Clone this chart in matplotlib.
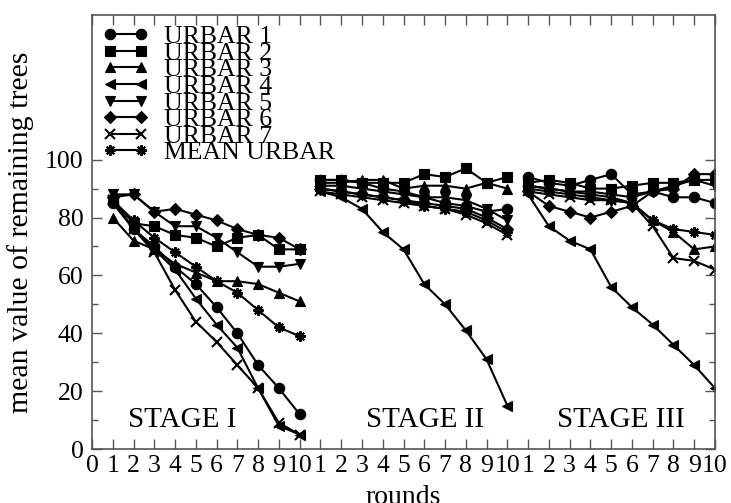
import matplotlib
matplotlib.use("Agg")
import matplotlib.pyplot as plt
import numpy as np

# rounds 1-10 of each stage, plotted one after another (stage I, II, III)
ROUNDS = np.arange(1, 31)
TICK_LABELS = ["0"] + [str(r) for r in range(1, 11)] * 3

URBAR_1 = [85, 76, 70, 63, 57, 49, 40, 29, 21, 12,
           93, 93, 92, 90, 89, 87, 85, 84, 82, 83,
           94, 92, 91, 93, 95, 88, 89, 87, 87, 85]
URBAR_2 = [86, 78, 77, 74, 73, 70, 73, 74, 69, 69,
           93, 93, 92, 92, 92, 95, 94, 97, 92, 94,
           92, 93, 92, 90, 90, 91, 92, 92, 93, 93]
URBAR_3 = [80, 72, 69, 64, 61, 58, 58, 57, 54, 51,
           92, 92, 93, 93, 90, 91, 91, 90, 92, 90,
           91, 90, 89, 88, 87, 85, 79, 75, 69, 70]
URBAR_4 = [86, 76, 69, 62, 52, 43, 35, 21, 8, 5,
           89, 87, 83, 75, 69, 57, 50, 41, 31, 15,
           88, 77, 72, 69, 56, 49, 43, 36, 29, 21]
URBAR_5 = [88, 88, 82, 77, 77, 73, 68, 63, 63, 64,
           91, 91, 90, 89, 88, 87, 87, 86, 83, 79,
           91, 90, 89, 89, 88, 87, 89, 91, 93, 91]
URBAR_6 = [87, 88, 82, 83, 81, 79, 76, 74, 73, 69,
           90, 89, 88, 87, 86, 85, 84, 83, 80, 76,
           89, 84, 82, 80, 82, 84, 89, 90, 95, 95]
URBAR_7 = [86, 76, 68, 55, 44, 37, 29, 21, 9, 5,
           89, 88, 87, 86, 85, 84, 83, 81, 78, 74,
           89, 88, 87, 86, 86, 85, 77, 66, 65, 62]
MEAN_URBAR = [86, 79, 73, 68, 63, 58, 54, 48, 42, 39,
              90, 89, 88, 87, 86, 84, 83, 82, 79, 75,
              90, 89, 88, 87, 86, 85, 79, 76, 75, 74]

SERIES = [
    ("URBAR 1", URBAR_1, "o"),
    ("URBAR 2", URBAR_2, "s"),
    ("URBAR 3", URBAR_3, "^"),
    ("URBAR 4", URBAR_4, "<"),
    ("URBAR 5", URBAR_5, "v"),
    ("URBAR 6", URBAR_6, "D"),
    ("URBAR 7", URBAR_7, "x"),
    ("MEAN URBAR", MEAN_URBAR, (8, 2, 0)),
]

STAGES = ["STAGE I", "STAGE II", "STAGE III"]
STAGE_CENTERS = [4.36, 16.03, 25.47]

plt.rcParams.update({
    "font.family": ["Liberation Serif", "DejaVu Serif"],
})

fig = plt.figure(figsize=(7.31, 5.03), dpi=100)
ax = fig.add_axes([92 / 731, 54 / 503, 623 / 731, 434 / 503])

for label, vals, marker in SERIES:
    # one line per stage so the stages are not joined
    for s in range(3):
        sl = slice(10 * s, 10 * s + 10)
        ms = 6.5 if marker == "D" else 7.5
        ax.plot(ROUNDS[sl], vals[sl], color="black", lw=1.5,
                marker=marker, markersize=ms,
                markeredgewidth=1.5 if marker in ("x", (8, 2, 0)) else 0.8,
                markerfacecolor="black", markeredgecolor="black",
                label=label if s == 0 else None)

ax.set_xlim(0, 30)
ax.set_ylim(0, 150)
ax.set_xticks(np.arange(0, 31))
ax.set_xticklabels(TICK_LABELS)
ax.set_yticks(np.arange(0, 101, 20))
ax.set_yticks(np.arange(10, 100, 20), minor=True)

ax.tick_params(axis="both", which="both", direction="in", top=True, right=True,
               color="#555555", width=1.0, labelsize=18.5, pad=6)
ax.tick_params(axis="both", which="major", length=7)
ax.tick_params(axis="y", which="minor", length=4)
ax.tick_params(axis="x", pad=4)
for sp in ax.spines.values():
    sp.set_color("#555555")
    sp.set_linewidth(1.2)

ax.set_xlabel("rounds", fontsize=20, labelpad=6)
ax.set_ylabel("mean value of remaining trees", fontsize=21.5, labelpad=8)

for name, xc in zip(STAGES, STAGE_CENTERS):
    ax.text(xc, 10, name, fontsize=21, ha="center", va="center")

leg = ax.legend(loc="upper left", bbox_to_anchor=(0.0, 1.0), frameon=False,
                fontsize=18.5, numpoints=2, handlelength=1.8, handletextpad=0.6,
                labelspacing=-0.25, borderaxespad=0.2, borderpad=0.2)

fig.savefig("out.png", dpi=100)
